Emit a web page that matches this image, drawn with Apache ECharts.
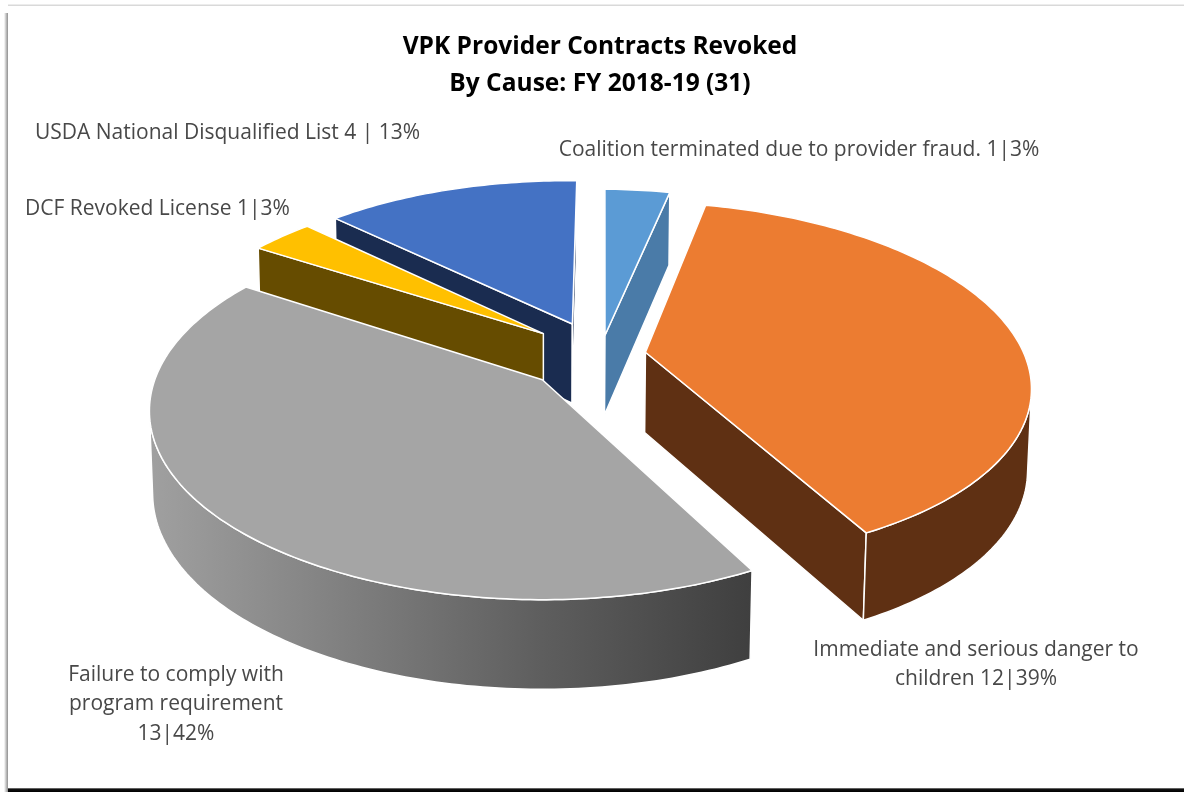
<!DOCTYPE html>
<html>
<head>
<meta charset="utf-8">
<style>html,body{margin:0;padding:0;background:#fff}#c{width:1184px;height:792px}</style>
<script src="https://cdn.jsdelivr.net/npm/echarts@6/dist/echarts.min.js"></script>
</head>
<body>
<div id="c"></div>
<script>
// data (chart order, clockwise from 12 o'clock)
var categories = ['Coalition terminated due to provider fraud.', 'Immediate and serious danger to children', 'Failure to comply with program requirement', 'DCF Revoked License', 'USDA National Disqualified List'];
var values = [1, 12, 13, 1, 4];
var titleLines = ['VPK Provider Contracts Revoked', 'By Cause: FY 2018-19 (31)'];
var labelTexts = [
  'Coalition terminated due to provider fraud. 1|3%',
  'Immediate and serious danger to\nchildren 12|39%',
  'Failure to comply with\nprogram requirement\n13|42%',
  'DCF Revoked License 1|3%',
  'USDA National Disqualified List 4 | 13%'
];

// styles and layout
var topColors = ['#5B9BD5', '#EC7C31', '#A5A5A5', '#FFC000', '#4472C4'];
var wallColors = ['#4A7BA8', '#5F3013', null, '#664C00', '#1A2C50'];
var failureWall = {type:'linear', x:150, y:0, x2:752, y2:0, global:true, colorStops:[
  {offset:0, color:'#A0A0A0'}, {offset:0.3, color:'#828282'}, {offset:0.65, color:'#5E5E5E'}, {offset:1, color:'#3F3F3F'}]};
var explode = [0.115, 0.12, 0.207, 0.195, 0.195];
var paintOrder = [2, 3, 4, 1, 0];   // higher paints later
var labelPos = [[799,150],[976,664.5],[176,704.5],[157.5,209],[227.5,133]];
var view = {ox:543, oy:380, a:387.6, b:183.7, p:0.165, depth:81.5, pd:0.112, q:0.008, cu:0.152, cv:0.14, rot:1.5};

var total = values.reduce(function(s,v){return s+v;},0);
function project(u, v, z) {
  var w = 1 + view.p*v - view.q*z;
  return [view.ox + view.a*u/w, view.oy - view.b*v/w - view.depth*z/(1 + view.pd*v)];
}
function signedArea(q) {
  var s = 0;
  for (var i=0;i<q.length;i++){var a=q[i],b=q[(i+1)%q.length];s+=a[0]*b[1]-b[0]*a[1];}
  return s/2;
}
var cumulative = values.map(function(v,i){return values.slice(0,i).reduce(function(s,x){return s+x;},0);});

function renderItem(params, api) {
  var i = params.dataIndex, val = api.value(0);
  var a0 = cumulative[i]/total*360 + view.rot, a1 = a0 + val/total*360, mid = (a0+a1)/2;
  var t = explode[i], rad = Math.PI/180;
  var cx = view.cu + t*Math.sin(mid*rad), cy = view.cv + t*Math.cos(mid*rad);
  function rimPt(deg, z){return project(cx+Math.sin(deg*rad), cy+Math.cos(deg*rad), z);}
  var apexT = project(cx,cy,0), apexB = project(cx,cy,-1);
  var z = paintOrder[i]*10, children = [];
  var fill = wallColors[i] || failureWall;
  function poly(pts, f, zz){children.push({type:'polygon', z2:zz, shape:{points:pts}, style:{fill:f, stroke:'#fff', lineWidth:1.5, lineJoin:'round'}});}

  var startQ = [apexT, rimPt(a0,0), rimPt(a0,-1), apexB];
  var endQ = [apexT, rimPt(a1,0), rimPt(a1,-1), apexB];
  if (signedArea(startQ) < 0) poly(startQ, fill, z);
  if (signedArea(endQ) > 0) poly(endQ, fill, z);

  var n = Math.max(4, Math.ceil(a1-a0)), topArc = [], run = [], runs = [];
  for (var k=0;k<=n;k++) topArc.push(rimPt(a0+(a1-a0)*k/n, 0));
  for (k=0;k<n;k++){
    var d0=a0+(a1-a0)*k/n, d1=a0+(a1-a0)*(k+1)/n;
    if (signedArea([rimPt(d0,0),rimPt(d1,0),rimPt(d1,-1),rimPt(d0,-1)]) < 0) { run.push(d0, d1); }
    else if (run.length){runs.push(run); run=[];}
  }
  if (run.length) runs.push(run);
  runs.forEach(function(r){
    var from=r[0], to=r[r.length-1], m=Math.ceil(to-from), up=[], dn=[];
    for (var j=0;j<=m;j++){var d=from+(to-from)*j/m; up.push(rimPt(d,0)); dn.unshift(rimPt(d,-1));}
    poly(up.concat(dn), fill, z+1);
  });
  poly([apexT].concat(topArc), topColors[i], z+2);
  return {type:'group', children:children};
}

var graphics = [
  {type:'rect', silent:true, z:-2, shape:{x:8,y:4.5,width:1176,height:1.5}, style:{fill:'#d9d9d9'}},
  {type:'rect', silent:true, z:-2, shape:{x:4,y:13,width:4,height:779}, style:{fill:{type:'linear',x:0,y:0,x2:1,y2:0,colorStops:[{offset:0,color:'#ffffff'},{offset:0.5,color:'#c4c4c4'},{offset:1,color:'#8f8f8f'}]}}},
  {type:'rect', silent:true, z:-2, shape:{x:8,y:788,width:1176,height:4}, style:{fill:{type:'linear',x:0,y:0,x2:0,y2:1,colorStops:[{offset:0,color:'#999999'},{offset:0.3,color:'#111111'},{offset:1,color:'#000000'}]}}}
];
labelTexts.forEach(function(s,i){
  graphics.push({type:'text', silent:true, x:labelPos[i][0], y:labelPos[i][1],
    style:{text:s, fill:'#484848', font:'21px "Open Sans"', align:'center', verticalAlign:'middle', lineHeight:29.5}});
});

var chart = echarts.init(document.getElementById('c'), null, {renderer:'canvas'});
chart.setOption({
  animation:false,
  backgroundColor:'#ffffff',
  title:{text:titleLines.join('\n'), left:595, top:24, textAlign:'center',
    textStyle:{fontFamily:'Open Sans', fontWeight:'bold', fontSize:24.5, lineHeight:37, color:'#000'}},
  graphic:graphics,
  series:[{type:'custom', coordinateSystem:'none', renderItem:renderItem,
    data:values.map(function(v,i){return {name:categories[i], value:[v]};})}]
});
</script>
</body>
</html>
